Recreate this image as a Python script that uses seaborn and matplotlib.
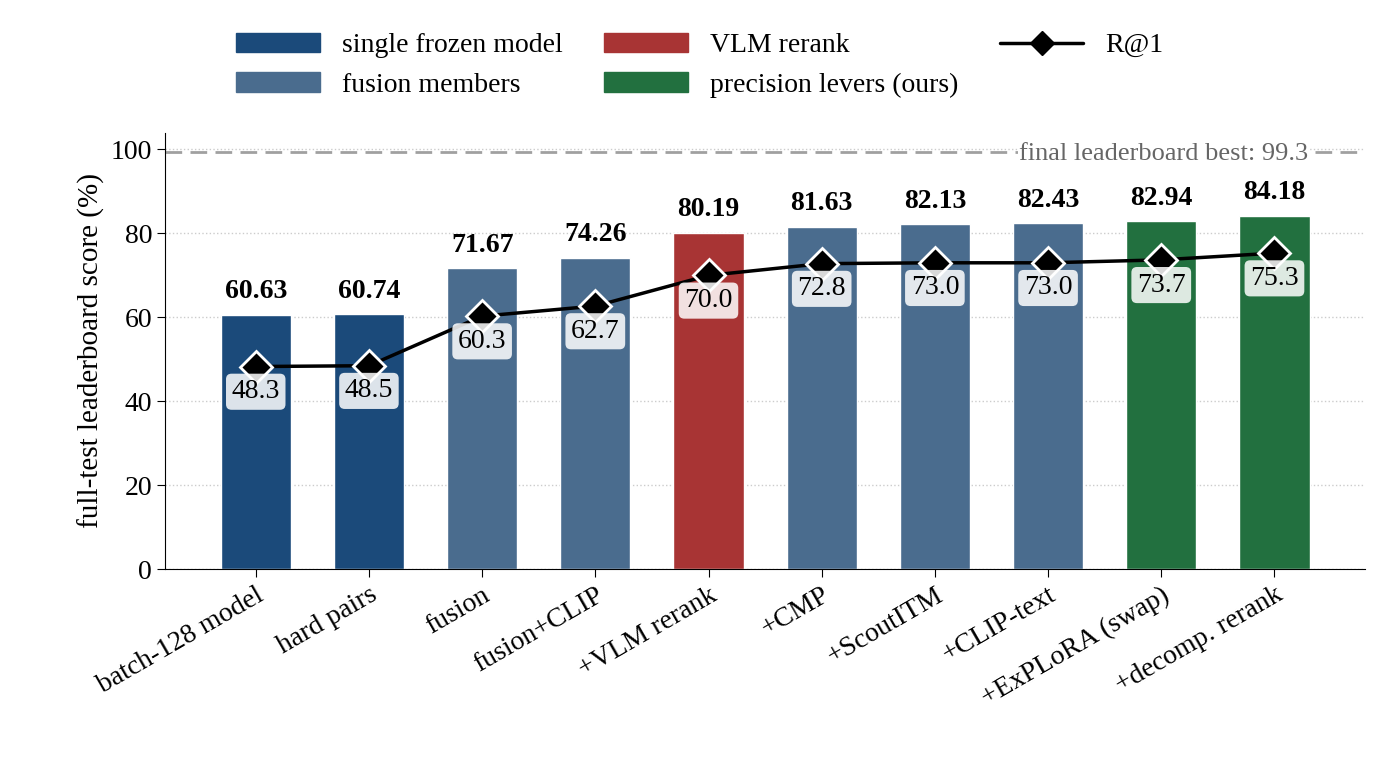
import matplotlib.pyplot as plt
import seaborn as sns
import pandas as pd
from matplotlib.patches import Patch
from matplotlib.lines import Line2D

stages = ["batch-128 model", "hard pairs", "fusion", "fusion+CLIP", "+VLM rerank",
          "+CMP", "+ScoutITM", "+CLIP-text", "+ExPLoRA (swap)", "+decomp. rerank"]
scores = [60.63, 60.74, 71.67, 74.26, 80.19, 81.63, 82.13, 82.43, 82.94, 84.18]
r_at_1 = [48.3, 48.5, 60.3, 62.7, 70.0, 72.8, 73.0, 73.0, 73.7, 75.3]
groups = ["single frozen model", "single frozen model", "fusion members", "fusion members",
          "VLM rerank", "fusion members", "fusion members", "fusion members",
          "precision levers (ours)", "precision levers (ours)"]
best = 99.3

colors = {"single frozen model": "#1b4a7a", "fusion members": "#4a6c8e",
          "VLM rerank": "#a83434", "precision levers (ours)": "#22703f"}

sns.set_style("ticks")
plt.rcParams["font.family"] = ["Liberation Serif", "DejaVu Serif"]
plt.rcParams["text.color"] = "black"
plt.rcParams["axes.labelcolor"] = "black"
plt.rcParams["xtick.color"] = "black"
plt.rcParams["ytick.color"] = "black"
plt.rcParams["axes.edgecolor"] = "black"

df = pd.DataFrame({"stage": stages, "score": scores, "r1": r_at_1, "group": groups})

fig, ax = plt.subplots(figsize=(14, 7.8), dpi=100)
sns.barplot(data=df, x="stage", y="score", hue="stage", saturation=1,
            palette=[colors[g] for g in groups], width=0.62, legend=False, ax=ax)
ax.plot(range(len(stages)), r_at_1, color="black", lw=2.5, marker="D", ms=16,
        markerfacecolor="black", markeredgecolor="white", markeredgewidth=2, zorder=5)

for i, (s, r) in enumerate(zip(scores, r_at_1)):
    ax.text(i, s + 2.5, f"{s:.2f}", ha="center", va="bottom", fontsize=20, fontweight="bold")
    ax.text(i, r - 6, f"{r:.1f}", ha="center", va="center", fontsize=20, zorder=6,
            bbox=dict(boxstyle="round,pad=0.2", fc="white", ec="none", alpha=0.85))

ax.axhline(best, color="#a0a0a0", ls="--", lw=2, dashes=(6, 3), zorder=0)
ax.text(9.3, best - 0.3, f"final leaderboard best: {best}", ha="right",
        va="center", fontsize=19, color="#666666",
        bbox=dict(fc="white", ec="none", pad=1))

ax.set_ylim(0, 104)
ax.set_xlim(-0.8, len(stages) - 0.2)
ax.set_yticks([0, 20, 40, 60, 80, 100])
ax.yaxis.grid(True, ls=":", color="#cccccc", lw=1)
ax.set_axisbelow(True)
ax.set_xlabel("")
ax.set_ylabel("full-test leaderboard score (%)", fontsize=21)
ax.tick_params(axis="y", labelsize=20, length=6)
ax.tick_params(axis="x", labelsize=20, length=6)
plt.setp(ax.get_xticklabels(), rotation=30, ha="right", rotation_mode="anchor")
sns.despine(ax=ax)

handles = [Patch(color=colors["single frozen model"], label="single frozen model"),
           Patch(color=colors["fusion members"], label="fusion members"),
           Patch(color=colors["VLM rerank"], label="VLM rerank"),
           Patch(color=colors["precision levers (ours)"], label="precision levers (ours)"),
           Line2D([], [], color="black", lw=2.5, marker="D", ms=12, label="R@1")]
fig.legend(handles=handles, ncol=3, loc="upper center", bbox_to_anchor=(0.5, 0.99),
           frameon=False, fontsize=20, handlelength=3, columnspacing=1.5)

fig.subplots_adjust(left=0.118, right=0.975, top=0.83, bottom=0.27)
fig.savefig("out.png")
